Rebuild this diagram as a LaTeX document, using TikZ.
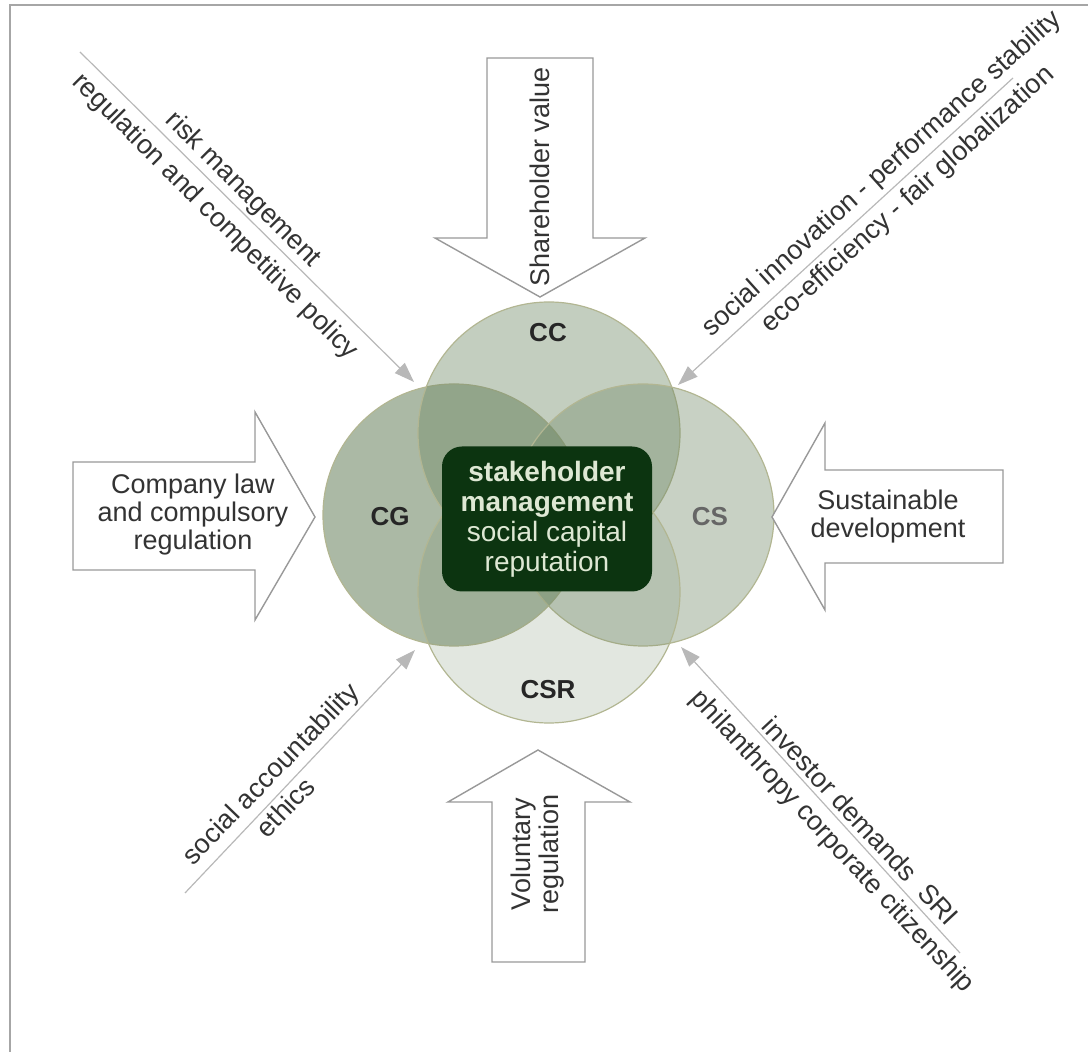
\documentclass[tikz,border=0pt]{standalone}
\usepackage{fontspec}
\setmainfont{Liberation Sans}
\usetikzlibrary{arrows.meta}
\definecolor{leaf}{RGB}{110,135,100}
\definecolor{rim}{RGB}{178,182,146}
\definecolor{corebg}{RGB}{12,52,16}
\definecolor{coretext}{RGB}{222,232,212}
\tikzset{
  ring/.style={circle, draw=rim, line width=0.6pt, fill=leaf, minimum size=131pt, inner sep=0pt},
  tag/.style={font=\bfseries\fontsize{13}{14}\selectfont, text=black!85, inner sep=0pt},
  say/.style={font=\fontsize{13.5}{14}\selectfont, align=center, text=black!80, inner sep=0pt},
  blockarrow/.style={draw=black!40, line width=0.7pt, fill=white, line join=miter},
  feed/.style={draw=black!28, line width=0.6pt, -{Triangle[length=10pt,width=7pt,fill=black!28]}},
  corebox/.style={fill=corebg, rounded corners=10pt, minimum width=105pt, minimum height=72.5pt,
    align=center, text=coretext, font=\fontsize{14}{15}\selectfont, inner sep=0pt},
}
\begin{document}
\begin{tikzpicture}[x=0.5pt,y=-0.5pt]
\useasboundingbox (0,0) rectangle (1088,1052);
% frame
\draw[black!35, line width=1pt] (10,1052) -- (10,5) -- (1088,5);

% four rings
\node[ring, fill opacity=0.58] (cg)  at (454,515) {};
\node[ring, fill opacity=0.41] (cc)  at (549,433) {};
\node[ring, fill opacity=0.38] (cs)  at (643,515) {};
\node[ring, fill opacity=0.20] (csr) at (549,592) {};
\node[tag] (cclab)  at (548,333) {CC};
\node[tag] (cglab)  at (390,517) {CG};
\node[tag, text=black!60] (cslab) at (710,517) {CS};
\node[tag] (csrlab) at (548,690) {CSR};

% centre
\node[corebox] (core) at (547,519) {\textbf{stakeholder}\\\textbf{management}\\social capital\\reputation};

% block arrows
\draw[blockarrow] (487,58) -- (593,58) -- (593,238) -- (645,238) -- (540,297) -- (435,238) -- (487,238) -- cycle;
\node[say, rotate=90] (share) at (540,177) {Shareholder value};
\draw[blockarrow] (73,462) -- (255,462) -- (255,412) -- (315,517) -- (255,620) -- (255,570) -- (73,570) -- cycle;
\node[say] (law) at (193,515) {Company law\\and compulsory\\regulation};
\draw[blockarrow] (1003,470) -- (825,470) -- (825,423) -- (772,517) -- (825,610) -- (825,563) -- (1003,563) -- cycle;
\node[say] (sust) at (888,517) {Sustainable\\development};
\draw[blockarrow] (492,962) -- (585,962) -- (585,802) -- (630,802) -- (538,750) -- (448,802) -- (492,802) -- cycle;
\node[say, rotate=90] (vol) at (538,854) {Voluntary\\regulation};

% diagonal feeds
\coordinate (tlS) at (80,52);   \coordinate (tlE) at (414,382);
\coordinate (trS) at (1013,78); \coordinate (trE) at (678,385);
\coordinate (blS) at (185,893); \coordinate (blE) at (415,650);
\coordinate (brS) at (960,953); \coordinate (brE) at (681,647);
\draw[feed] (tlS) -- (tlE);
\draw[feed] (trS) -- (trE);
\draw[feed] (blS) -- (blE);
\draw[feed] (brS) -- (brE);
\node[say, rotate=-45] (risk)   at (243,190) {risk management};
\node[say, rotate=-45] (regpol) at (215,217) {regulation and competitive policy};
\node[say, rotate=42]  (socinn) at (882,174) {social innovation - performance stability};
\node[say, rotate=42]  (ecoeff) at (908,200) {eco-efficiency - fair globalization};
\node[say, rotate=46]  (socacc) at (272,775) {social accountability};
\node[say, rotate=46]  (ethics) at (285,807) {ethics};
\node[say, rotate=-47] (invest) at (861,821) {investor demands\ \ SRI};
\node[say, rotate=-47] (philan) at (832,842) {philanthropy corporate citizenship};
\end{tikzpicture}
\end{document}
